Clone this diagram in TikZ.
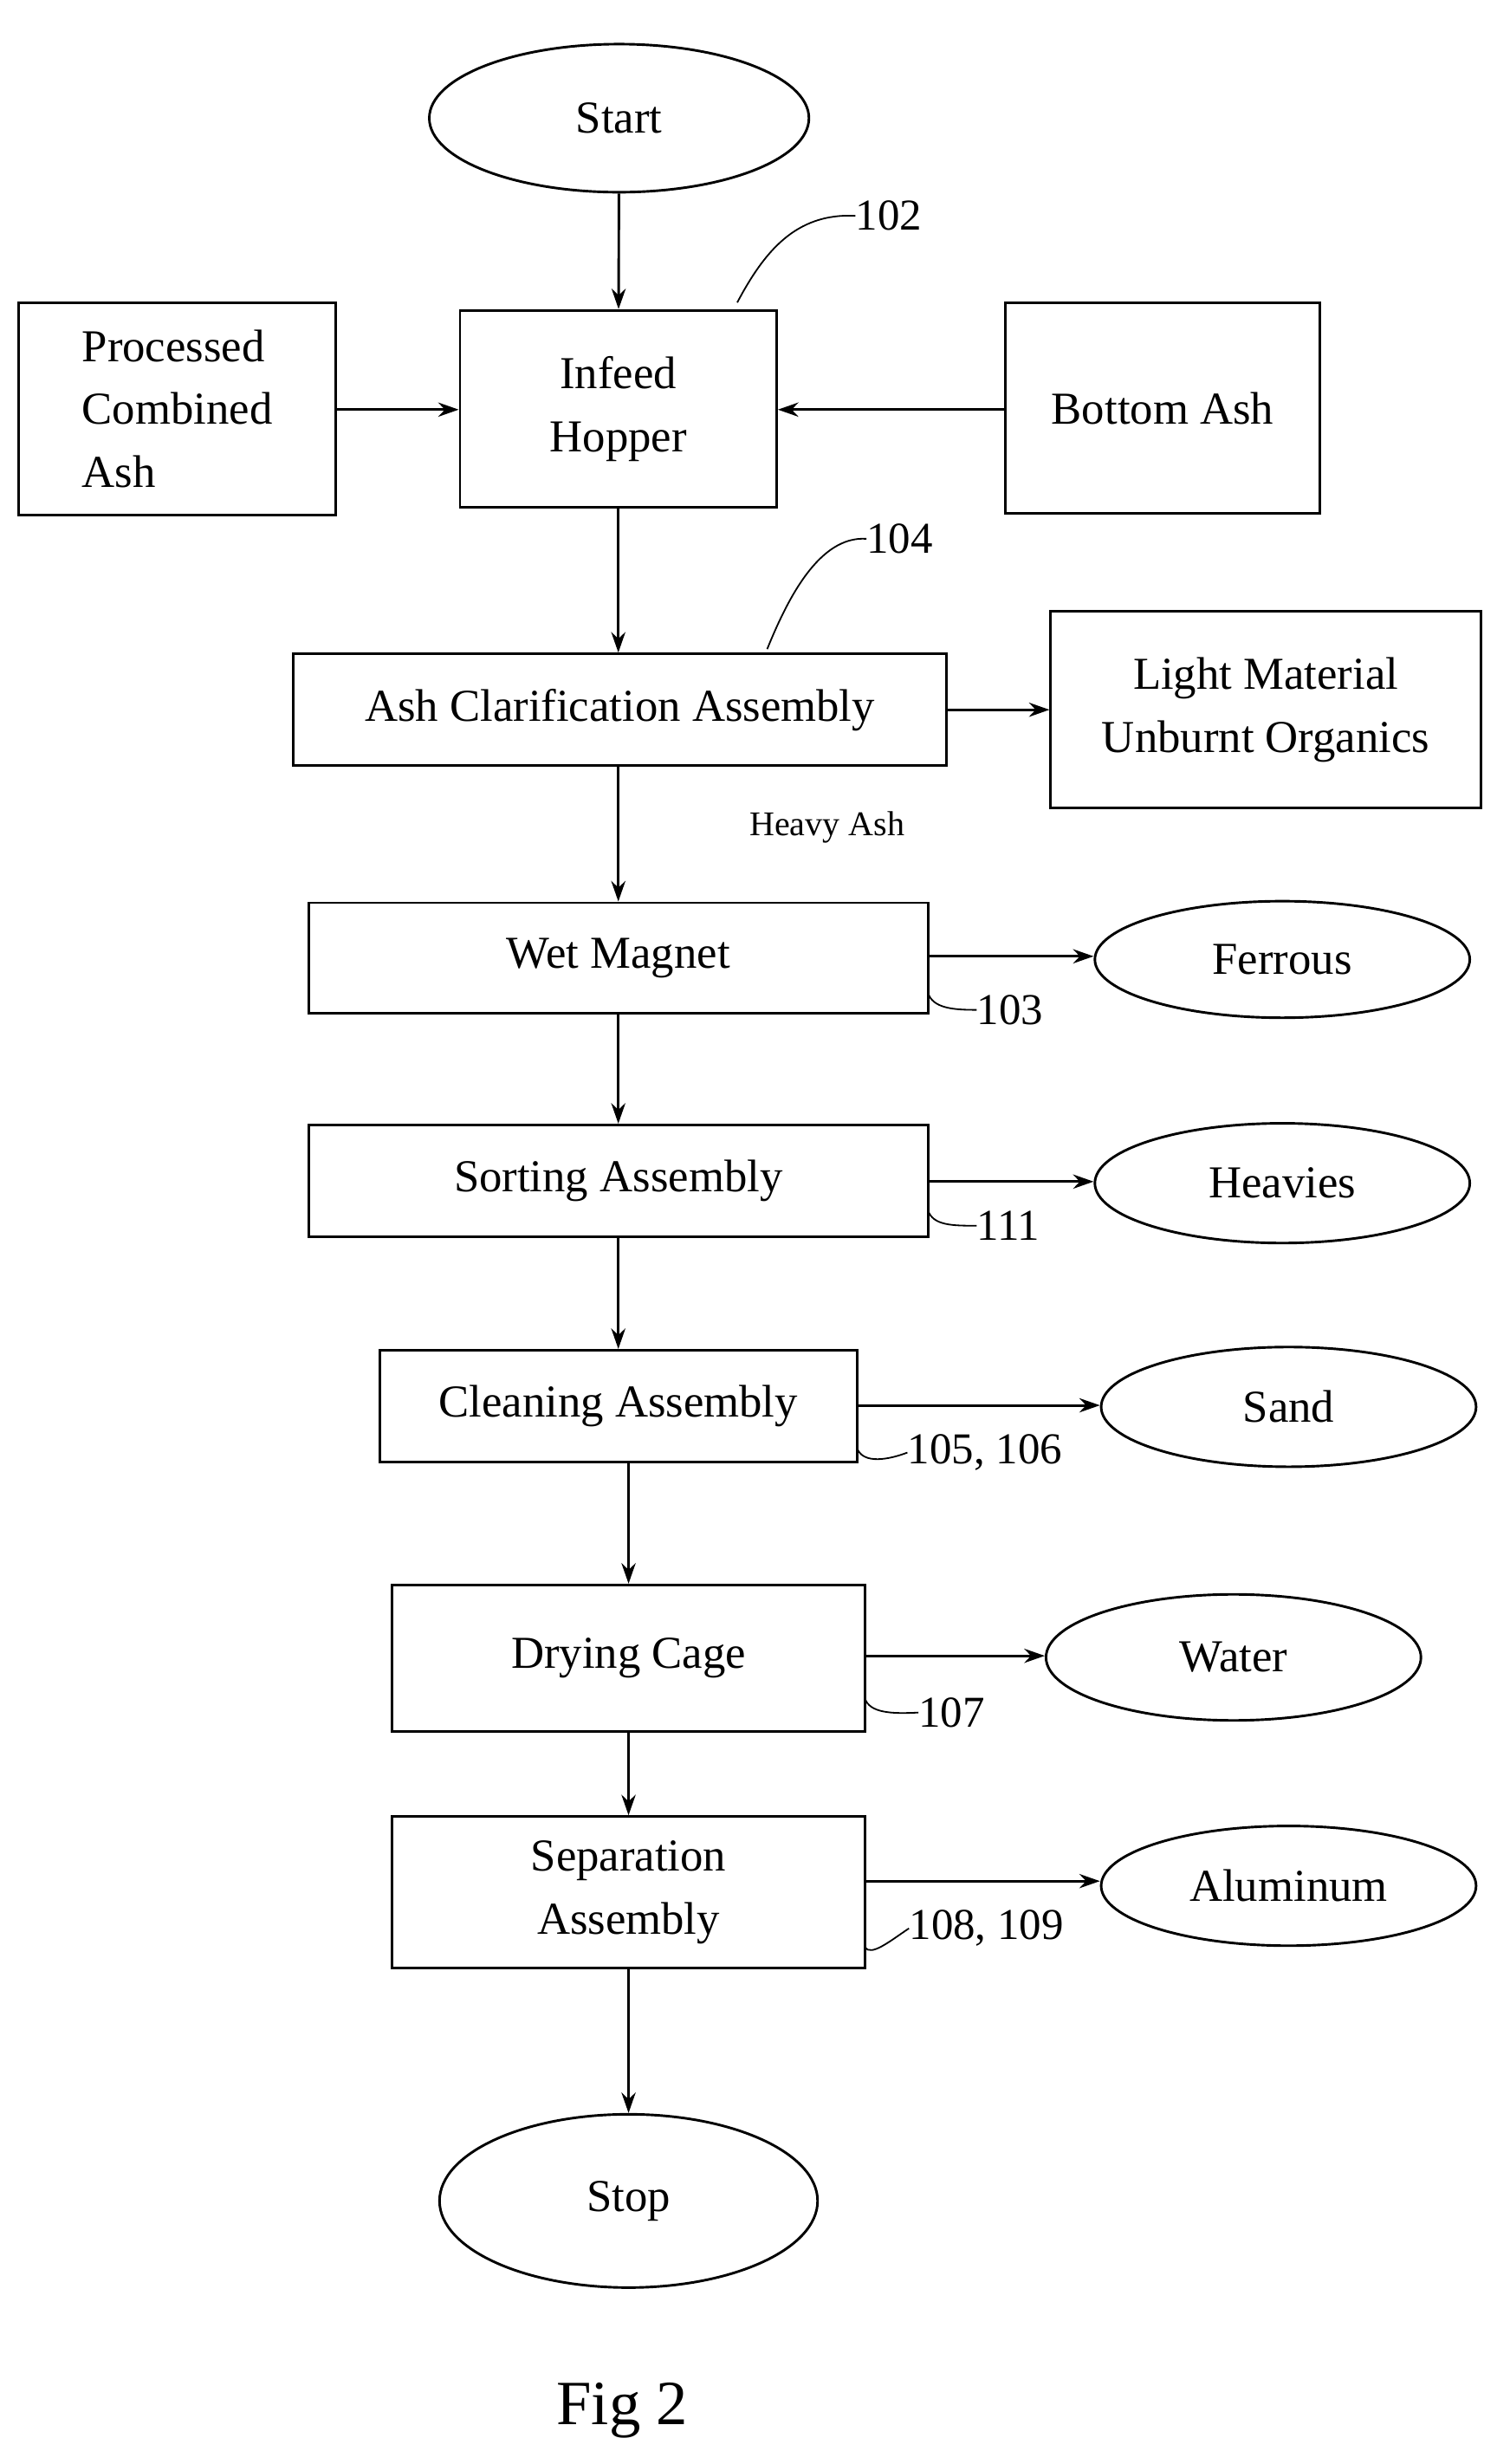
\documentclass[tikz,border=0pt]{standalone}
\usepackage{fontspec}
\setmainfont{Liberation Serif}
\usetikzlibrary{arrows.meta,shapes.geometric}
\begin{document}
\begin{tikzpicture}[x=1pt,y=-1pt,
  every node/.style={font=\fontsize{29}{40}\selectfont},
  box/.style={draw,line width=1.6pt,inner sep=0pt},
  ell/.style={draw,ellipse,line width=1.6pt,inner sep=0pt},
  arr/.style={line width=1.6pt,-{Stealth[length=13pt,width=9pt]}},
  lead/.style={line width=1pt},
  lab/.style={font=\fontsize{28}{32}\selectfont,anchor=west,inner sep=0pt}]
\useasboundingbox (0,0) rectangle (950,1564);
\node[ell,minimum width=241,minimum height=94] (start) at (393,75) {Start};
\node[box,minimum width=201,minimum height=125,align=center] (infeed) at (392.5,259.5) {Infeed\\Hopper};
\node[box,minimum width=201,minimum height=135,align=left] (proc) at (112.5,259.5) {Processed\\Combined\\Ash};
\node[box,minimum width=200,minimum height=134] (bottom) at (738,259) {Bottom Ash};
\node[box,minimum width=415,minimum height=71] (clar) at (393.5,450.5) {Ash Clarification Assembly};
\node[box,minimum width=273,minimum height=125,align=center] (light) at (803.5,450.5) {Light Material\\Unburnt Organics};
\node[font=\fontsize{22}{26}\selectfont] (heavy) at (525,525) {Heavy Ash};
\node[box,minimum width=393,minimum height=70] (wet) at (392.5,608) {Wet Magnet};
\node[ell,minimum width=238,minimum height=74] (ferrous) at (814,609) {Ferrous};
\node[box,minimum width=393,minimum height=71] (sort) at (392.5,749.5) {Sorting Assembly};
\node[ell,minimum width=238,minimum height=76] (heavies) at (814,751) {Heavies};
\node[box,minimum width=303,minimum height=71] (clean) at (392.5,892.5) {Cleaning Assembly};
\node[ell,minimum width=238,minimum height=76] (sand) at (818,893) {Sand};
\node[box,minimum width=300,minimum height=93] (dry) at (399,1052.5) {Drying Cage};
\node[ell,minimum width=238,minimum height=80] (water) at (783,1052) {Water};
\node[box,minimum width=300,minimum height=96,align=center] (sep) at (399,1201) {Separation\\Assembly};
\node[ell,minimum width=238,minimum height=76] (alu) at (818,1197) {Aluminum};
\node[ell,minimum width=240,minimum height=110] (stop) at (399,1397) {Stop};
\node[font=\fontsize{40}{46}\selectfont] (fig) at (395,1530) {Fig 2};

\draw[arr] (start) -- (infeed);
\draw[arr] (proc.east |- 0,260) -- (infeed.west |- 0,260);
\draw[arr] (bottom.west |- 0,260) -- (infeed.east |- 0,260);
\draw[arr] (infeed) -- (clar.north -| infeed);
\draw[arr] (clar) -- (light);
\draw[arr] (clar.south -| infeed) -- (wet.north -| infeed);
\draw[arr] (wet.east |- 0,607) -- (ferrous.west |- 0,607);
\draw[arr] (wet) -- (sort);
\draw[arr] (sort.east |- 0,750) -- (heavies.west |- 0,750);
\draw[arr] (sort) -- (clean);
\draw[arr] (clean.east |- 0,892) -- (sand.west |- 0,892);
\draw[arr] (clean.south -| dry) -- (dry);
\draw[arr] (dry.east |- 0,1051) -- (water.west |- 0,1051);
\draw[arr] (dry) -- (sep);
\draw[arr] (sep.east |- 0,1194) -- (alu.west |- 0,1194);
\draw[arr] (sep) -- (stop);

\node[lab] (l102) at (543,137) {102};
\draw[lead] (468,192) .. controls (485,160) and (505,135) .. (l102.west);
\node[lab] (l104) at (550,342) {104};
\draw[lead] (487,412) .. controls (500,380) and (520,340) .. (l104.west);
\node[lab] (l103) at (620,641) {103};
\draw[lead] (589,630) .. controls (592,640) and (605,641) .. (l103.west);
\node[lab] (l111) at (620,778) {111};
\draw[lead] (589,768) .. controls (592,778) and (605,778) .. (l111.west);
\node[lab] (l105) at (576,922) {105, 106};
\draw[lead] (544,919) .. controls (547,928) and (560,928) .. (l105.west);
\node[lab] (l107) at (583,1087) {107};
\draw[lead] (549,1078) .. controls (552,1087) and (565,1088) .. (l107.west);
\node[lab] (l108) at (577,1224) {108, 109};
\draw[lead] (549,1236) .. controls (553,1242) and (565,1232) .. (l108.west);
\end{tikzpicture}
\end{document}
